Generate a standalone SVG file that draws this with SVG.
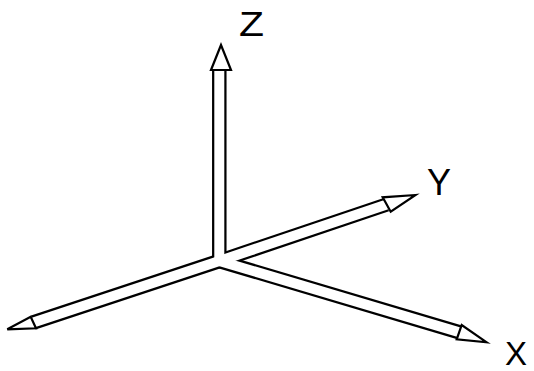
<svg xmlns="http://www.w3.org/2000/svg" width="534" height="371" viewBox="0 0 534 371">
<style>
.ob{stroke:#000;stroke-width:14.5;fill:none;stroke-linecap:butt}
.iw{stroke:#fff;stroke-width:10;fill:none;stroke-linecap:butt}
.head{fill:#fff;stroke:#000;stroke-width:2.2;stroke-linejoin:miter}
.lbl{font-family:"Liberation Sans",Arial,sans-serif;fill:#000}
</style>
<rect width="534" height="371" fill="#fff"/>
<g id="connectors">
<line class="ob" x1="219.3" y1="261" x2="219.3" y2="70"/>
<line class="ob" x1="219.3" y1="261" x2="33.3" y2="322.5"/>
<line class="ob" x1="219.3" y1="261" x2="459.2" y2="332.2"/>
<line class="ob" x1="219.3" y1="261" x2="386.7" y2="204.5"/>
<line class="iw" x1="219.3" y1="261" x2="219.3" y2="70"/>
<line class="iw" x1="219.3" y1="261" x2="33.3" y2="322.5"/>
<line class="iw" x1="219.3" y1="261" x2="459.2" y2="332.2"/>
<line class="iw" x1="219.3" y1="261" x2="386.7" y2="204.5"/>
<circle cx="219.3" cy="261" r="4.5" fill="#fff"/>
</g>
<g id="axis-z">
<polygon class="head" points="221,45 211,70 231,70"/>
<text class="lbl" x="239" y="36" font-size="35" textLength="25" lengthAdjust="spacingAndGlyphs">Z</text>
</g>
<g id="axis-neg">
<polygon class="head" points="7.3,329.3 30.7,316.7 36,328.3"/>
</g>
<g id="axis-x">
<polygon class="head" points="486.7,342.3 461.7,325 456.7,339.3"/>
<text class="lbl" x="505" y="364.5" font-size="33">X</text>
</g>
<g id="axis-y">
<polygon class="head" points="415.7,195 382.7,197.3 390.7,211.7"/>
<text class="lbl" x="427" y="195" font-size="36">Y</text>
</g>
</svg>
